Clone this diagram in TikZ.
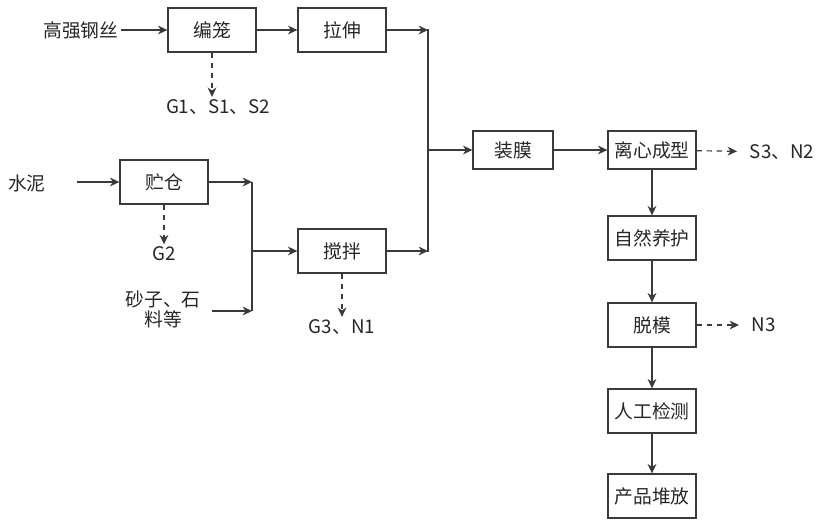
\documentclass[tikz,border=0pt]{standalone}
\usepackage{fontspec}
\setmainfont{Noto Sans CJK SC}
\usetikzlibrary{arrows.meta}

\definecolor{inkgray}{HTML}{3A3A3A}
\tikzset{
  procbox/.style = {draw=inkgray, line width=1.1pt, minimum width=2.64cm, minimum height=1.32cm, inner sep=0pt},
  plain/.style = {inner sep=2pt},
  sidetag/.style = {plain, anchor=west, outer xsep=9pt},
  flow/.style = {draw=inkgray, line width=1pt, -{Stealth[length=8pt,width=7.5pt,inset=2.5pt]}},
  emit/.style = {flow, dash pattern=on 4.5pt off 4pt},
  trunk/.style = {draw=inkgray, line width=1.1pt}
}

\begin{document}
\begin{tikzpicture}[x=0.03cm, y=-0.03cm, font=\fontsize{16}{19}\selectfont, text=black!85]
    \useasboundingbox (0,0) rectangle (821,520);

    \node[procbox] (bianlong) at (212,30) {编笼};
    \node[procbox] (lashen) at (342,30) {拉伸};
    \node[procbox] (zhucang) at (164,182) {贮仓};
    \node[procbox] (jiaoban) at (342,251) {搅拌};
    \node[procbox, minimum width=2.4cm, minimum height=1.14cm] (zhuangmo) at (513,150) {装膜};
    \node[procbox, minimum height=1.14cm] (lixin) at (652,150) {离心成型};
    \node[procbox] (ziran) at (652,238) {自然养护};
    \node[procbox] (tuomo) at (652,325) {脱模};
    \node[procbox] (jiance) at (652,411) {人工检测};
    \node[procbox] (duifang) at (652,496) {产品堆放};

    \node[plain, anchor=east] (gangsi) at (121,30) {高强钢丝};
    \node[plain] (shuini) at (27,183) {水泥};
    \node[plain, align=center] (shazi) at (163,309) {砂子、石\\[-2pt]料等};
    \node[plain] (g1) at (218,107) {G1、S1、S2};
    \node[plain] (g2) at (164,254) {G2};
    \node[plain] (g3) at (342,327) {G3、N1};
    \node[sidetag] (s3) at (737,152) {S3、N2};
    \node[sidetag] (n3) at (739,325) {N3};

    \coordinate (shuiniout) at (77,182);
    \coordinate (shaziout) at (212,311);
    \coordinate (mixtop) at (252,182);
    \coordinate (mixbot) at (252,311);
    \coordinate (mixmid) at (252,251);
    \coordinate (mergetop) at (428,30);
    \coordinate (mergebot) at (428,251);
    \coordinate (mergemid) at (428,150);

    \draw[flow] (gangsi) -- (bianlong);
    \draw[flow] (bianlong) -- (lashen);
    \draw[flow] (lashen) -- (mergetop);
    \draw[flow] (shuiniout) -- (zhucang);
    \draw[flow] (zhucang) -- (mixtop);
    \draw[flow] (shaziout) -- (mixbot);
    \draw[trunk] (mixtop) -- (mixbot);
    \draw[flow] (mixmid) -- (jiaoban);
    \draw[flow] (jiaoban) -- (mergebot);
    \draw[trunk] ([yshift=1pt]mergetop) -- ([yshift=-1pt]mergebot);
    \draw[flow] (mergemid) -- (zhuangmo);
    \draw[flow] (zhuangmo) -- (lixin);
    \draw[flow] (lixin) -- (ziran);
    \draw[flow] (ziran) -- (tuomo);
    \draw[flow] (tuomo) -- (jiance);
    \draw[flow] (jiance) -- (duifang);

    \draw[emit] (bianlong.south) -- (bianlong.south |- g1.north);
    \draw[emit] (zhucang) -- (g2);
    \draw[emit] (jiaoban) -- (g3);
    \draw[emit] (lixin) -- (s3);
    \draw[emit] (tuomo) -- (n3);

\end{tikzpicture}
\end{document}
